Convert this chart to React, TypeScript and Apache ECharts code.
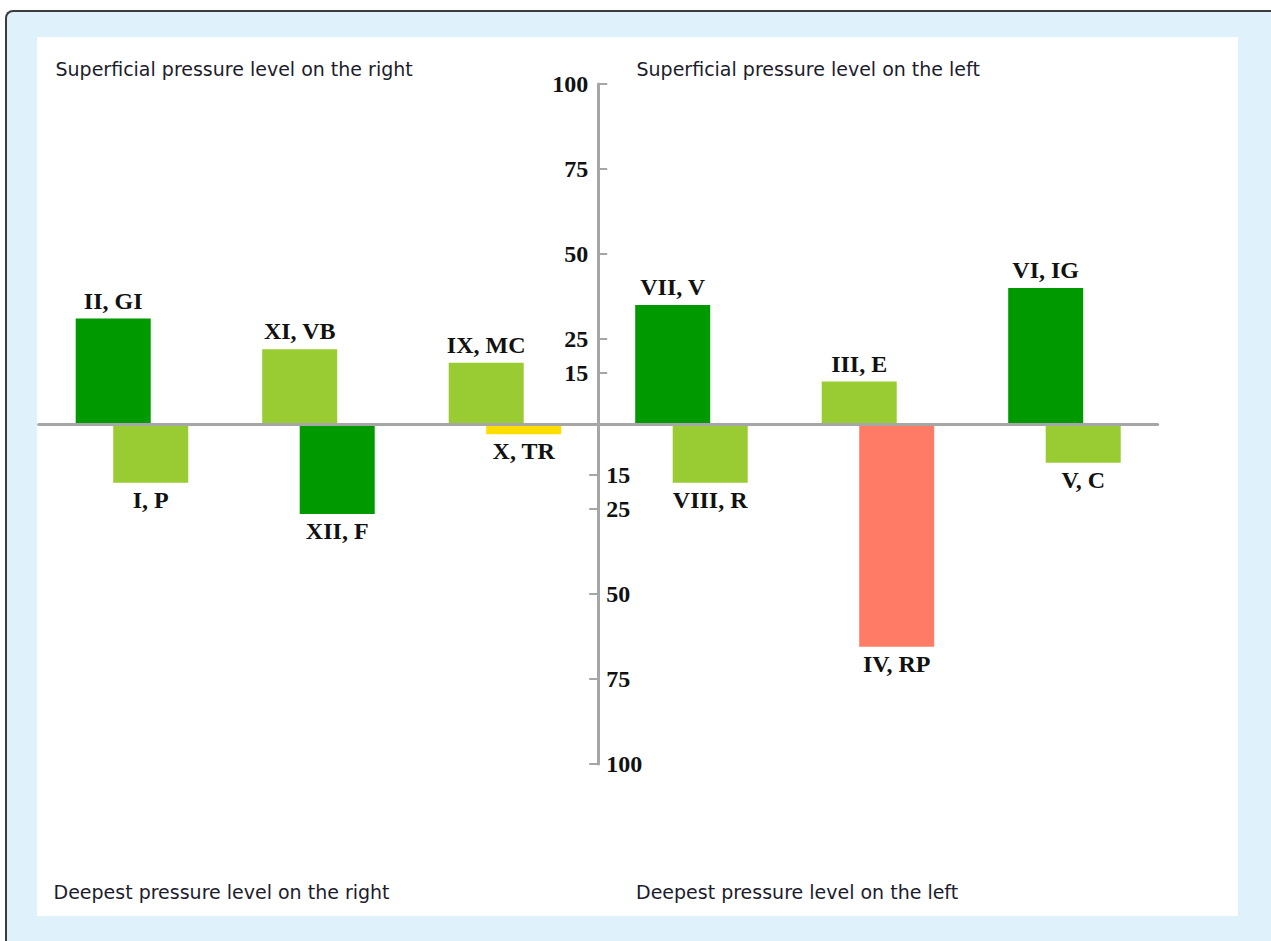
import React, { useEffect, useRef } from "react";
import * as echarts from "echarts";

const categories = ["G1", "G2", "G3", "G4", "G5", "G6"];
const upperNames = ["II, GI", "XI, VB", "IX, MC", "VII, V", "III, E", "VI, IG"];
const upperValues = [31, 22, 18, 35, 12.5, 40];
const upperColors = ["#009900", "#99cc33", "#99cc33", "#009900", "#99cc33", "#009900"];
const lowerNames = ["I, P", "XII, F", "X, TR", "VIII, R", "IV, RP", "V, C"];
const lowerValues = [-17.3, -26.5, -3, -17.3, -65.5, -11.4];
const lowerColors = ["#99cc33", "#009900", "#ffdd00", "#99cc33", "#ff7b66", "#99cc33"];
const upperTicks = [15, 25, 50, 75, 100];
const lowerTicks = [-15, -25, -50, -75, -100];
const cornerTexts = [
  "Superficial pressure level on the right",
  "Superficial pressure level on the left",
  "Deepest pressure level on the right",
  "Deepest pressure level on the left",
];

const AXIS_GRAY = "#a6a6a6";
const SERIF = "'Liberation Serif', 'Times New Roman', serif";
const SANS = "'DejaVu Sans', Verdana, sans-serif";

export default function App() {
  const ref = useRef<HTMLDivElement>(null);

  useEffect(() => {
    document.body.style.margin = "0";
    if (!ref.current) return;
    const chart = echarts.init(ref.current, null, { renderer: "svg" });
    const gridLeft = 38.7;
    const yAxisX = 598.2;
    const labelStyle = {
      fontFamily: SERIF,
      fontWeight: "bold" as const,
      fontSize: 24,
      color: "#111",
    };
    const option: any = {
      animation: false,
      grid: {
        left: gridLeft,
        top: 84,
        width: 1119,
        height: 680,
        containLabel: false,
        outerBoundsMode: "none",
      },
      xAxis: {
        type: "category",
        data: categories,
        z: 5,
        axisLine: { show: true, onZero: true, lineStyle: { color: AXIS_GRAY, width: 3 } },
        axisTick: { show: false },
        axisLabel: { show: false },
        splitLine: { show: false },
      },
      yAxis: [
        {
          type: "value",
          min: -100,
          max: 100,
          position: "left",
          offset: gridLeft - yAxisX,
          z: 5,
          axisLine: { show: true, onZero: false, lineStyle: { color: AXIS_GRAY, width: 3 } },
          axisTick: {
            show: true,
            inside: true,
            length: 9,
            customValues: upperTicks,
            lineStyle: { color: AXIS_GRAY, width: 2 },
          },
          axisLabel: {
            show: true,
            customValues: upperTicks,
            margin: 10,
            formatter: (v: number) => String(Math.abs(v)),
            ...labelStyle,
          },
          splitLine: { show: false },
        },
        {
          type: "value",
          min: -100,
          max: 100,
          position: "left",
          offset: gridLeft - yAxisX,
          z: 5,
          axisLine: { show: false },
          axisTick: {
            show: true,
            inside: false,
            length: 9,
            customValues: lowerTicks,
            lineStyle: { color: AXIS_GRAY, width: 2 },
          },
          axisLabel: {
            show: true,
            inside: true,
            customValues: lowerTicks,
            margin: 8,
            formatter: (v: number) => String(Math.abs(v)),
            ...labelStyle,
          },
          splitLine: { show: false },
        },
      ],
      series: [
        {
          type: "bar",
          xAxisIndex: 0,
          yAxisIndex: 0,
          barWidth: 75,
          barGap: "-50%",
          z: 2,
          data: upperValues.map((v, i) => ({ value: v, itemStyle: { color: upperColors[i] } })),
          label: {
            show: true,
            position: "top",
            distance: 6,
            formatter: (p: any) => upperNames[p.dataIndex],
            ...labelStyle,
          },
        },
        {
          type: "bar",
          xAxisIndex: 0,
          yAxisIndex: 0,
          barWidth: 75,
          barGap: "-50%",
          z: 2,
          data: lowerValues.map((v, i) => ({ value: v, itemStyle: { color: lowerColors[i] } })),
          label: {
            show: true,
            position: "bottom",
            distance: 5,
            formatter: (p: any) => lowerNames[p.dataIndex],
            ...labelStyle,
          },
        },
      ],
      graphic: [
        { type: "text", x: 55.5, y: 69, style: { text: cornerTexts[0], fontSize: 19, fontFamily: SANS, fill: "#1c1c2c", verticalAlign: "middle" } },
        { type: "text", x: 636.5, y: 69, style: { text: cornerTexts[1], fontSize: 19, fontFamily: SANS, fill: "#1c1c2c", verticalAlign: "middle" } },
        { type: "text", x: 53.5, y: 892, style: { text: cornerTexts[2], fontSize: 19, fontFamily: SANS, fill: "#1c1c2c", verticalAlign: "middle" } },
        { type: "text", x: 636, y: 892, style: { text: cornerTexts[3], fontSize: 19, fontFamily: SANS, fill: "#1c1c2c", verticalAlign: "middle" } },
      ],
    };
    chart.setOption(option);
    return () => chart.dispose();
  }, []);

  return (
    <div style={{ position: "relative", width: 1271, height: 941, overflow: "hidden", background: "#fff" }}>
      <div
        style={{
          position: "absolute",
          left: 5,
          top: 10,
          width: 1290,
          height: 960,
          boxSizing: "border-box",
          borderTop: "2px solid #3c3c3c",
          borderLeft: "2px solid #3c3c3c",
          borderTopLeftRadius: 8,
          background: "#dff1fb",
        }}
      />
      <div style={{ position: "absolute", left: 37, top: 37, width: 1201, height: 879, background: "#fff" }} />
      <div ref={ref} style={{ position: "absolute", left: 0, top: 0, width: 1271, height: 941 }} />
    </div>
  );
}
